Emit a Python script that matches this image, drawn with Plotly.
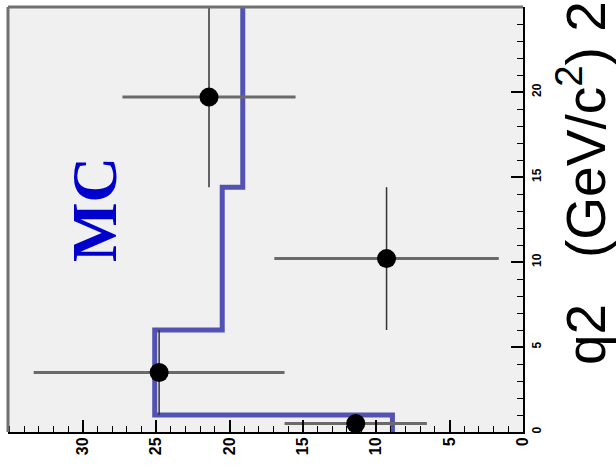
import plotly.graph_objects as go

# ---- data ----
q2_edges = [0, 1, 6, 14.4, 25]            # bin edges in q2 (GeV/c^2)^2
mc_counts = [8.9, 25.1, 20.5, 19.1]        # MC histogram contents
data_q2 = [0.5, 3.5, 10.2, 19.7]           # data point bin centres
data_q2_halfwidth = [0.5, 2.5, 4.2, 5.3]   # half bin widths
data_counts = [11.4, 24.8, 9.3, 21.4]      # data counts
data_err = [4.85, 8.55, 7.65, 5.9]         # count errors
count_ticks = [0, 5, 10, 15, 20, 25, 30]
q2_ticks = [0, 5, 10, 15, 20, 25]

W, H = 616, 473
L, R, T, B = 8, 93, 7, 41

fig = go.Figure()

step_x = mc_counts + [mc_counts[-1]]
fig.add_trace(go.Scatter(
    x=step_x, y=q2_edges, mode="lines",
    line=dict(shape="vh", color="#5252b4", width=5),
    hoverinfo="skip", showlegend=False))

fig.add_trace(go.Scatter(
    x=data_counts, y=data_q2, mode="markers",
    marker=dict(color="black", size=19),
    error_x=dict(type="data", array=data_err, color="#6a6a6a", thickness=3, width=0),
    error_y=dict(type="data", array=data_q2_halfwidth, color="#333333", thickness=1.5, width=0),
    showlegend=False))

tickfont_x = dict(family="Liberation Sans, Arial", size=16, color="black", weight="bold")
tickfont_y = dict(family="Liberation Sans, Arial", size=12, color="black", weight="bold")

fig.update_layout(
    width=W, height=H,
    margin=dict(l=L, r=R, t=T, b=B, pad=0),
    paper_bgcolor="white", plot_bgcolor="#f0f0f0",
    xaxis=dict(range=[35.1, 0], tickvals=count_ticks, ticks="inside", ticklen=12,
               tickwidth=1.5, tickcolor="black", ticklabelstandoff=-3,
               minor=dict(dtick=1, tick0=0, ticks="inside", ticklen=6, tickcolor="black", tickwidth=1),
               showline=True, linecolor="black", linewidth=2, tickangle=-90,
               tickfont=tickfont_x, showgrid=False, zeroline=False),
    yaxis=dict(range=[0, 25], side="right", tickvals=q2_ticks, ticks="inside", ticklen=12,
               tickwidth=1.5, tickcolor="black", ticklabelstandoff=2,
               minor=dict(dtick=1, tick0=0, ticks="inside", ticklen=6, tickcolor="black", tickwidth=1),
               showline=True, linecolor="black", linewidth=2, tickangle=-90,
               tickfont=tickfont_y, showgrid=False, zeroline=False),
    shapes=[
        dict(type="line", xref="paper", yref="paper", x0=0, x1=0, y0=0, y1=1,
             line=dict(color="#707070", width=3)),
        dict(type="line", xref="paper", yref="paper", x0=0, x1=1, y0=1, y1=1,
             line=dict(color="#707070", width=3)),
    ],
    annotations=[
        dict(text="<b>MC</b>", xref="paper", yref="paper",
             x=(95 - L) / (W - L - R), y=(H - B - 210) / (H - T - B),
             xanchor="center", yanchor="middle", textangle=-90, showarrow=False,
             font=dict(family="Liberation Serif, Times New Roman", size=63, color="#0000cc")),
        dict(text="q2\u00a0\u00a0\u00a0(GeV/c<sup>2</sup>)\u00a02", xref="paper", yref="paper",
             x=(582 - L) / (W - L - R), y=(H - B - 367) / (H - T - B),
             xanchor="center", yanchor="bottom", textangle=-90, showarrow=False,
             font=dict(family="Liberation Sans, Arial", size=55, color="black")),
    ],
)

fig.write_html("out.html")
